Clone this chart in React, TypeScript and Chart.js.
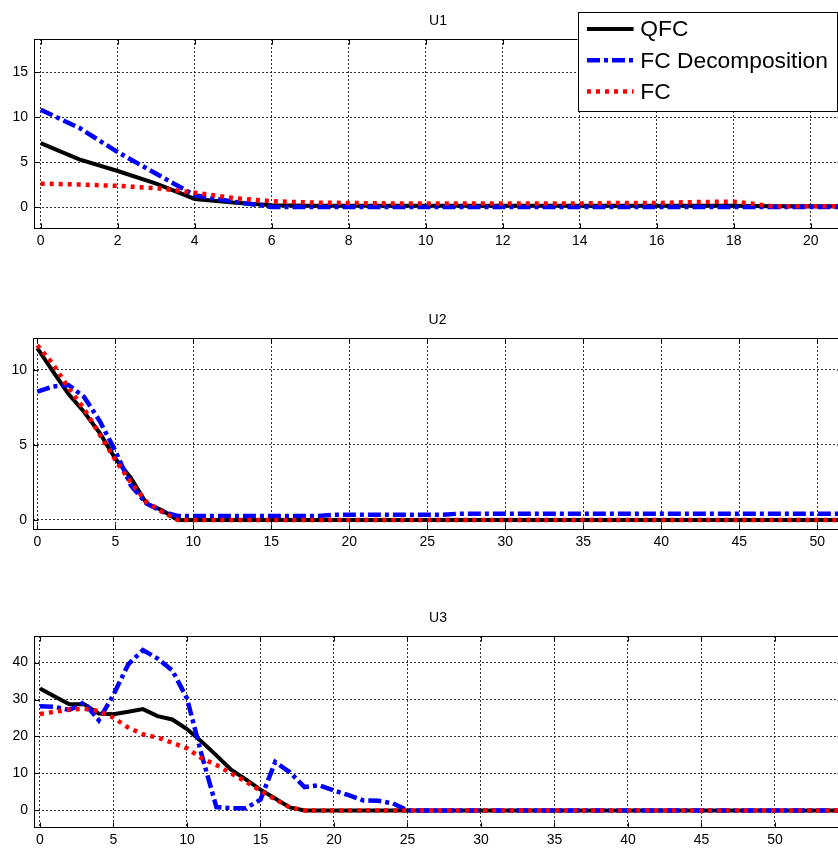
import React, { useEffect, useRef } from "react";
import { Chart, registerables } from "chart.js";

Chart.register(...registerables);

// ---- series meta ----
const SERIES_LABELS = ["QFC", "FC Decomposition", "FC"];
const SERIES_COLORS = ["#000000", "#0000ff", "#ff0000"];
const SERIES_DASHES = [[], [13, 4, 4, 4], [4, 5]];
const SERIES_WIDTHS = [4, 4.5, 4.5];
const SERIES_ORDER = [2, 1, 0];

// ---- U1 (steps 0..21) ----
const U1_QFC = [7.1, 5.3, 4.0, 2.6, 0.9, 0.5, 0.2, 0.15, 0.15, 0.15, 0.15, 0.15, 0.15, 0.15, 0.15, 0.15, 0.15, 0.15, 0.15, 0.1, 0.1, 0.1];
const U1_FCD = [10.8, 8.8, 6.1, 3.7, 1.3, 0.6, 0.0, 0.0, 0.0, 0.0, 0.0, 0.0, 0.0, 0.0, 0.0, 0.0, 0.0, 0.0, 0.0, 0.0, 0.0, 0.0];
const U1_FC = [2.6, 2.5, 2.35, 2.1, 1.6, 1.0, 0.65, 0.5, 0.45, 0.4, 0.4, 0.4, 0.4, 0.4, 0.4, 0.45, 0.45, 0.55, 0.6, 0.1, 0.1, 0.1];
const U1_X_TICKS = [0, 2, 4, 6, 8, 10, 12, 14, 16, 18, 20];
const U1_Y_TICKS = [0, 5, 10, 15];

// ---- U2 (steps 0..52) ----
const U2_QFC = [11.45, 9.9, 8.4, 7.2, 5.8, 4.1, 2.8, 1.1, 0.65, 0, 0, 0, 0, 0, 0, 0, 0, 0, 0, 0, 0, 0, 0, 0, 0, 0, 0, 0, 0, 0, 0, 0, 0, 0, 0, 0, 0, 0, 0, 0, 0, 0, 0, 0, 0, 0, 0, 0, 0, 0, 0, 0, 0];
const U2_FCD = [8.55, 8.9, 9.0, 8.2, 6.6, 4.6, 2.3, 1.1, 0.55, 0.27, 0.27, 0.27, 0.27, 0.27, 0.27, 0.27, 0.27, 0.27, 0.27, 0.35, 0.35, 0.35, 0.35, 0.35, 0.35, 0.35, 0.35, 0.42, 0.42, 0.42, 0.42, 0.42, 0.42, 0.42, 0.42, 0.42, 0.42, 0.42, 0.42, 0.42, 0.42, 0.42, 0.42, 0.42, 0.42, 0.42, 0.42, 0.42, 0.42, 0.42, 0.42, 0.42, 0.42];
const U2_FC = [11.65, 10.4, 8.8, 7.4, 5.7, 4.0, 2.5, 1.2, 0.55, 0, 0, 0, 0, 0, 0, 0, 0, 0, 0, 0, 0, 0, 0, 0, 0, 0, 0, 0, 0, 0, 0, 0, 0, 0, 0, 0, 0, 0, 0, 0, 0, 0, 0, 0, 0, 0, 0, 0, 0, 0, 0, 0, 0];
const U2_X_TICKS = [0, 5, 10, 15, 20, 25, 30, 35, 40, 45, 50];
const U2_Y_TICKS = [0, 5, 10];

// ---- U3 (steps 0..55) ----
const U3_QFC = [33.0, 30.8, 28.7, 28.7, 26.2, 26.0, 26.7, 27.4, 25.5, 24.6, 22.0, 18.6, 14.9, 11.0, 8.4, 5.6, 3.2, 0.8, 0, 0, 0, 0, 0, 0, 0, 0, 0, 0, 0, 0, 0, 0, 0, 0, 0, 0, 0, 0, 0, 0, 0, 0, 0, 0, 0, 0, 0, 0, 0, 0, 0, 0, 0, 0, 0, 0];
const U3_FCD = [28.2, 28.0, 27.2, 29.2, 24.4, 31.3, 39.5, 43.4, 41.1, 37.9, 30.3, 15.0, 0.9, 0.6, 0.6, 2.9, 13.1, 10.3, 6.3, 6.8, 5.4, 4.1, 2.7, 2.6, 1.9, 0, 0, 0, 0, 0, 0, 0, 0, 0, 0, 0, 0, 0, 0, 0, 0, 0, 0, 0, 0, 0, 0, 0, 0, 0, 0, 0, 0, 0, 0, 0];
const U3_FC = [26.1, 26.7, 27.3, 27.5, 26.9, 25.1, 22.4, 20.6, 19.7, 18.3, 16.8, 14.1, 12.3, 10.0, 7.8, 5.3, 3.0, 0.8, 0, 0, 0, 0, 0, 0, 0, 0, 0, 0, 0, 0, 0, 0, 0, 0, 0, 0, 0, 0, 0, 0, 0, 0, 0, 0, 0, 0, 0, 0, 0, 0, 0, 0, 0, 0, 0, 0];
const U3_X_TICKS = [0, 5, 10, 15, 20, 25, 30, 35, 40, 45, 50];
const U3_Y_TICKS = [0, 10, 20, 30, 40];

const FONT = '"Liberation Sans", Arial, Helvetica, sans-serif';
const CANVAS_W = 860;

type PanelDef = {
  title: string;
  series: number[][];
  xTicks: number[];
  yTicks: number[];
  xMin: number; xMax: number; yMin: number; yMax: number;
  top: number; height: number;
  padTop: number; padBottom: number;
  yAxisW: number; xAxisH: number;
  legend: boolean;
};

const PANELS: PanelDef[] = [
  { title: "U1", series: [U1_QFC, U1_FCD, U1_FC], xTicks: U1_X_TICKS, yTicks: U1_Y_TICKS,
    xMin: -0.174, xMax: 20.81, yMin: -2.33, yMax: 18.67,
    top: 0, height: 280, padTop: 39, padBottom: 22, yAxisW: 34, xAxisH: 30, legend: true },
  { title: "U2", series: [U2_QFC, U2_FCD, U2_FC], xTicks: U2_X_TICKS, yTicks: U2_Y_TICKS,
    xMin: -0.276, xMax: 51.58, yMin: -0.6, yMax: 12.13,
    top: 280, height: 280, padTop: 58, padBottom: 1, yAxisW: 33, xAxisH: 30, legend: false },
  { title: "U3", series: [U3_QFC, U3_FCD, U3_FC], xTicks: U3_X_TICKS, yTicks: U3_Y_TICKS,
    xMin: -0.408, xMax: 54.56, yMin: -4.5, yMax: 47.2,
    top: 580, height: 269, padTop: 56, padBottom: 0, yAxisW: 34, xAxisH: 22, legend: false },
];

const framePlugin = {
  id: "matlabFrame",
  afterDraw(chart: any, _args: any, opts: any) {
    const { ctx, chartArea: ca, scales } = chart;
    ctx.save();
    // box
    const l = Math.round(ca.left) + 0.5, t = Math.round(ca.top) + 0.5;
    const r = Math.round(ca.right) + 0.5, b = Math.round(ca.bottom) + 0.5;
    ctx.strokeStyle = "#000";
    ctx.lineWidth = 1;
    ctx.setLineDash([]);
    ctx.strokeRect(l, t, r - l, b - t);
    // inward ticks
    ctx.beginPath();
    scales.x.ticks.forEach((tk: any) => {
      const px = Math.round(scales.x.getPixelForValue(tk.value)) + 0.5;
      ctx.moveTo(px, b); ctx.lineTo(px, b - 5);
      ctx.moveTo(px, t); ctx.lineTo(px, t + 5);
    });
    scales.y.ticks.forEach((tk: any) => {
      const py = Math.round(scales.y.getPixelForValue(tk.value)) + 0.5;
      ctx.moveTo(l, py); ctx.lineTo(l + 5, py);
      ctx.moveTo(r, py); ctx.lineTo(r - 5, py);
    });
    ctx.stroke();
    // title
    ctx.fillStyle = "#000";
    ctx.font = `14px ${FONT}`;
    ctx.textAlign = "center";
    ctx.textBaseline = "middle";
    ctx.fillText(opts.title, (ca.left + ca.right) / 2, ca.top - 18);
    // legend
    if (opts.legend) {
      const w = 259.4, h = 98.6;
      const right = ca.right - 5;
      const left = right - w;
      const top = ca.top - 27.3;
      ctx.fillStyle = "#fff";
      ctx.fillRect(left, top, w, h);
      ctx.strokeStyle = "#000";
      ctx.lineWidth = 1;
      ctx.strokeRect(Math.round(left) + 0.5, Math.round(top) + 0.5, Math.round(w), Math.round(h));
      chart.data.datasets.forEach((ds: any, i: number) => {
        const y = top + 17.3 + i * 31.3;
        ctx.save();
        ctx.strokeStyle = ds.borderColor;
        ctx.lineWidth = ds.borderWidth;
        ctx.setLineDash(ds.borderDash || []);
        ctx.beginPath();
        ctx.moveTo(left + 9.4, y);
        ctx.lineTo(left + 56, y);
        ctx.stroke();
        ctx.restore();
        ctx.fillStyle = "#000";
        ctx.font = `22.8px ${FONT}`;
        ctx.textAlign = "left";
        ctx.textBaseline = "middle";
        ctx.fillText(ds.label, left + 62.7, y + 1);
      });
    }
    ctx.restore();
  },
};

function makeConfig(p: PanelDef): any {
  const datasets = p.series.map((vals, i) => ({
    label: SERIES_LABELS[i],
    data: vals.map((v, k) => ({ x: k, y: v })),
    borderColor: SERIES_COLORS[i],
    backgroundColor: SERIES_COLORS[i],
    borderWidth: SERIES_WIDTHS[i],
    borderDash: SERIES_DASHES[i],
    borderCapStyle: "butt",
    borderJoinStyle: "miter",
    pointRadius: 0,
    tension: 0,
    fill: false,
    order: SERIES_ORDER[i],
  }));
  const tickFont = { family: FONT, size: 14 };
  return {
    type: "line",
    data: { datasets },
    options: {
      responsive: false,
      animation: false,
      devicePixelRatio: 1,
      layout: { padding: { top: p.padTop, bottom: p.padBottom, left: 0, right: CANVAS_W - 842 } },
      plugins: {
        legend: { display: false },
        title: { display: false },
        tooltip: { enabled: false },
        matlabFrame: { title: p.title, legend: p.legend },
      },
      scales: {
        x: {
          type: "linear",
          min: p.xMin,
          max: p.xMax,
          afterBuildTicks: (s: any) => { s.ticks = p.xTicks.map((v) => ({ value: v })); },
          afterFit: (s: any) => { s.height = p.xAxisH; },
          ticks: { font: tickFont, color: "#000", padding: 5, maxRotation: 0, autoSkip: false },
          grid: { color: "rgba(0,0,0,0.8)", lineWidth: 1, drawTicks: false },
          border: { display: false, dash: [2, 2] },
        },
        y: {
          type: "linear",
          min: p.yMin,
          max: p.yMax,
          afterBuildTicks: (s: any) => { s.ticks = p.yTicks.map((v) => ({ value: v })); },
          afterFit: (s: any) => { s.width = p.yAxisW; },
          ticks: { font: tickFont, color: "#000", padding: 6, autoSkip: false },
          grid: { color: "rgba(0,0,0,0.8)", lineWidth: 1, drawTicks: false },
          border: { display: false, dash: [2, 2] },
        },
      },
    },
    plugins: [framePlugin],
  };
}

export default function App() {
  const refs = [useRef<HTMLCanvasElement>(null), useRef<HTMLCanvasElement>(null), useRef<HTMLCanvasElement>(null)];
  useEffect(() => {
    const charts = PANELS.map((p, i) => new Chart(refs[i].current as HTMLCanvasElement, makeConfig(p)));
    return () => charts.forEach((c) => c.destroy());
  }, []);
  return (
    <div style={{ position: "absolute", left: 0, top: 0, width: 838, height: 849, overflow: "hidden", background: "#fff" }}>
      {PANELS.map((p, i) => (
        <canvas
          key={p.title}
          ref={refs[i]}
          width={CANVAS_W}
          height={p.height}
          style={{ position: "absolute", left: 0, top: p.top, width: CANVAS_W, height: p.height }}
        />
      ))}
    </div>
  );
}
